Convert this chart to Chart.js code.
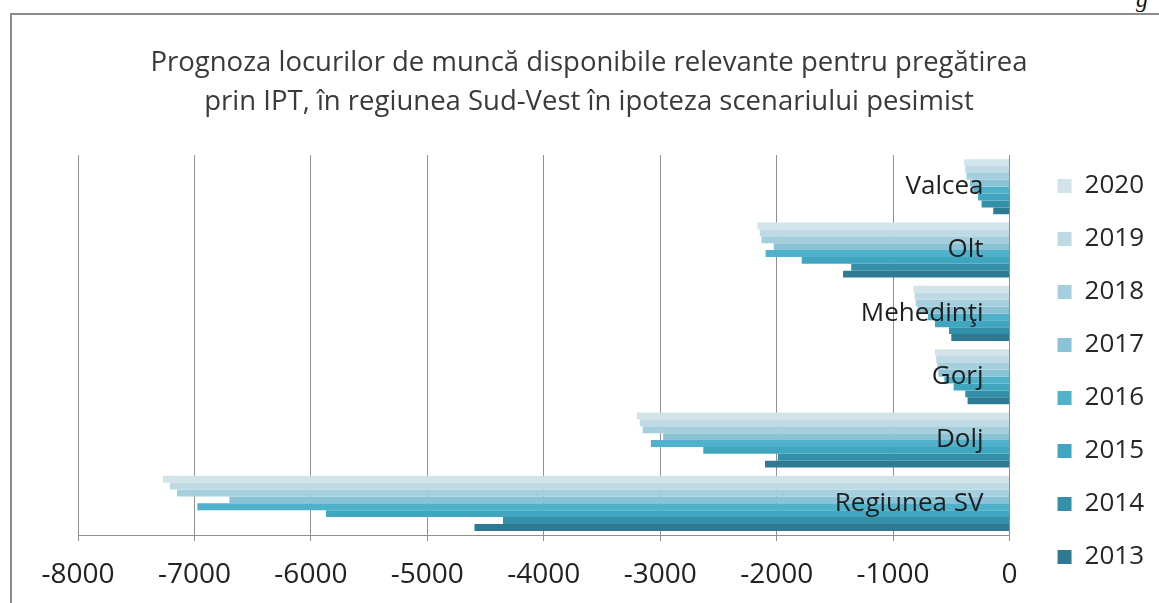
<!DOCTYPE html>
<html>
<head>
<meta charset="utf-8">
<script src="https://cdn.jsdelivr.net/npm/chart.js@4.4.1/dist/chart.umd.min.js"></script>
<style>
  body { margin: 0; background: #fff; overflow: hidden; }
  #frame { position: absolute; left: 10px; top: 13px; width: 1170px; height: 620px; border: 2px solid #8c8c8c; box-sizing: border-box; }
  #stray { position: absolute; left: 1136px; top: -14px; font-family: "Liberation Serif", serif; font-style: italic; font-size: 24px; color: #111; }
  #wrap { position: absolute; left: 0; top: 0; width: 1159px; height: 603px; }
</style>
</head>
<body>
<div id="stray">g</div>
<div id="frame"></div>
<div id="wrap"><canvas id="barChart" width="1159" height="603"></canvas></div>
<script>
// categories, top to bottom as drawn
const judete = ['Valcea', 'Olt', 'Mehedinţi', 'Gorj', 'Dolj', 'Regiunea SV'];
// years, in legend order (2020 first = top bar of each group)
const ani = ['2020', '2019', '2018', '2017', '2016', '2015', '2014', '2013'];

// values per year, same order as judete
const v2020 = [-390, -2165, -825, -640, -3200, -7270];
const v2019 = [-380, -2145, -815, -630, -3175, -7210];
const v2018 = [-370, -2130, -805, -620, -3150, -7150];
const v2017 = [-340, -2025, -790, -610, -2975, -6700];
const v2016 = [-310, -2095, -700, -560, -3080, -6975];
const v2015 = [-270, -1785, -640, -480, -2630, -5870];
const v2014 = [-240, -1360, -520, -380, -1990, -4350];
const v2013 = [-140, -1430, -500, -360, -2100, -4595];

const xTicks = [-8000, -7000, -6000, -5000, -4000, -3000, -2000, -1000, 0];

const culori = ['#d3e3ea', '#bddae5', '#a5cfdd', '#89c3d5', '#50b2ca', '#40a6c0', '#3490a9', '#2e7a92'];
const serii = [v2020, v2019, v2018, v2017, v2016, v2015, v2014, v2013];

const ctx = document.getElementById('barChart');

const datasets = serii.map((vals, i) => ({
    label: ani[i],
    data: vals,
    backgroundColor: culori[i],
    borderWidth: 0,
    barPercentage: 1,
    categoryPercentage: 0.87
}));

new Chart(ctx, {
    type: 'bar',
    data: { labels: judete, datasets: datasets },
    options: {
        indexAxis: 'y',
        responsive: false,
        animation: false,
        layout: { padding: { left: 24, right: 5, top: 44, bottom: 6 } },
        plugins: {
            title: {
                display: true,
                text: ['Prognoza locurilor de muncă disponibile relevante pentru pregătirea',
                       'prin IPT, în regiunea Sud-Vest în ipoteza scenariului pesimist'],
                color: '#3a3a3a',
                font: { family: 'Open Sans', size: 27.5, weight: 'normal', lineHeight: 1.42 },
                padding: { top: 0, bottom: 33 }
            },
            legend: {
                position: 'right',
                align: 'end',
                labels: {
                    color: '#262626',
                    font: { family: 'Open Sans', size: 26 },
                    boxWidth: 14,
                    boxHeight: 14,
                    padding: 27
                }
            },
            tooltip: { enabled: false }
        },
        scales: {
            x: {
                min: -8000,
                max: 0,
                afterBuildTicks: (axis) => { axis.ticks = xTicks.map(v => ({ value: v })); },
                afterFit: (axis) => { axis.paddingLeft = 78; axis.height = 62; },
                grid: { color: '#8f8f8f', lineWidth: 1, tickLength: 6 },
                border: { color: '#8f8f8f' },
                ticks: {
                    color: '#222',
                    font: { family: 'Open Sans', size: 28 },
                    padding: 17,
                    callback: (v) => String(v)
                }
            },
            y: {
                position: 'right',
                afterFit: (axis) => { axis.width = 21; },
                grid: { display: false, drawTicks: false },
                border: { display: true, color: '#8f8f8f', z: 1 },
                ticks: {
                    z: 1,
                    mirror: true,
                    padding: -26,
                    color: '#1e1e1e',
                    font: { family: 'Open Sans', size: 26 }
                }
            }
        }
    }
});
</script>
</body>
</html>
